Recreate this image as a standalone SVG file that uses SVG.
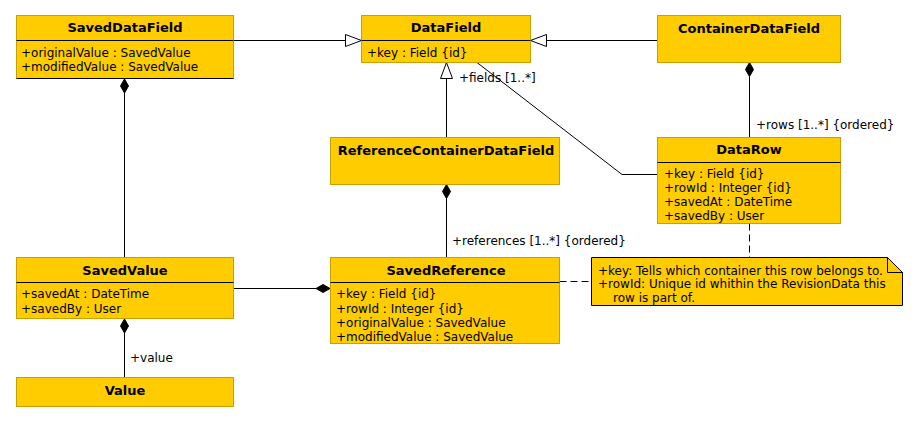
<svg xmlns="http://www.w3.org/2000/svg" width="918" height="423" viewBox="0 0 918 423">
  <style>
    .box { fill: #FFCC00; stroke: #C8A000; stroke-width: 1; }
    .sep { stroke: #000; stroke-width: 1; }
    .title { font-family: "DejaVu Sans", sans-serif; font-size: 13px; font-weight: bold; fill: #000; text-anchor: middle; }
    .attr { font-family: "DejaVu Sans", sans-serif; font-size: 12px; fill: #000; }
    .lbl { font-family: "DejaVu Sans", sans-serif; font-size: 12px; fill: #000; }
    .edge { fill: none; stroke: #000; stroke-width: 1; }
    .dash { fill: none; stroke: #000; stroke-width: 1; stroke-dasharray: 7 4; }
    .note { fill: #FFCC00; stroke: #000; stroke-width: 1; }
  </style>
  <defs>
    <marker id="gen" markerWidth="18" markerHeight="14" refX="17" refY="7" orient="auto" markerUnits="userSpaceOnUse">
      <path d="M1,1 L17,7 L1,13 Z" fill="#fff" stroke="#000" stroke-width="1"/>
    </marker>
    <marker id="comp" markerWidth="16" markerHeight="10" refX="1" refY="5" orient="auto" markerUnits="userSpaceOnUse">
      <path d="M1,5 L8,1 L15,5 L8,9 Z" fill="#000" stroke="#000" stroke-width="1"/>
    </marker>
  </defs>

  <g id="connectors">
    <!-- generalizations -->
    <path class="edge" d="M233.5,40.5 H361.5" marker-end="url(#gen)"/>
    <path class="edge" d="M657.5,40.5 H530.5" marker-end="url(#gen)"/>
    <path class="edge" d="M446.5,137 V62.5" marker-end="url(#gen)"/>
    <!-- associations -->
    <path class="edge" d="M477,62.5 L622,174.5 H658"/>
    <text class="lbl" x="459" y="82">+fields [1..*]</text>
    <!-- compositions -->
    <path class="edge" d="M749.5,62.5 V137" marker-start="url(#comp)"/>
    <text class="lbl" x="756" y="129">+rows [1..*] {ordered}</text>
    <path class="edge" d="M446.5,184.5 V257" marker-start="url(#comp)"/>
    <text class="lbl" x="452" y="245">+references [1..*] {ordered}</text>
    <path class="edge" d="M124.5,78.5 V257"/>
    <path d="M124.5,79 L128.5,86 L124.5,93 L120.5,86 Z" fill="#000" stroke="#000"/>
    <path class="edge" d="M124.5,318.5 V377"/>
    <path d="M124.5,319 L128.5,326 L124.5,333 L120.5,326 Z" fill="#000" stroke="#000"/>
    <text class="lbl" x="130" y="362">+value</text>
    <path class="edge" d="M233.5,288.5 H316"/>
    <path d="M330,288.5 L323,284.5 L316,288.5 L323,292.5 Z" fill="#000" stroke="#000"/>
    <!-- note anchors -->
    <path class="dash" d="M749.5,223.5 V257"/>
    <path class="dash" d="M559.5,281.5 H592"/>
  </g>

  <g id="SavedDataField">
    <rect class="box" x="16.5" y="15.5" width="217" height="63"/>
    <line class="sep" x1="16.5" y1="40.5" x2="233.5" y2="40.5"/>
    <line class="sep" x1="16.5" y1="78.5" x2="233.5" y2="78.5"/>
    <text class="title" x="125" y="32">SavedDataField</text>
    <text class="attr" x="21" y="57">+originalValue : SavedValue</text>
    <text class="attr" x="21" y="71">+modifiedValue : SavedValue</text>
  </g>

  <g id="DataField">
    <rect class="box" x="361.5" y="15.5" width="169" height="47"/>
    <line class="sep" x1="361.5" y1="40.5" x2="530.5" y2="40.5"/>
    <text class="title" x="446" y="32">DataField</text>
    <text class="attr" x="367" y="57">+key : Field {id}</text>
  </g>

  <g id="ContainerDataField">
    <rect class="box" x="657.5" y="15.5" width="183" height="47"/>
    <text class="title" x="749" y="33">ContainerDataField</text>
  </g>

  <g id="ReferenceContainerDataField">
    <rect class="box" x="330.5" y="137.5" width="229" height="47"/>
    <text class="title" x="446" y="155">ReferenceContainerDataField</text>
  </g>

  <g id="DataRow">
    <rect class="box" x="657.5" y="137.5" width="183" height="86"/>
    <line class="sep" x1="657.5" y1="162.5" x2="840.5" y2="162.5"/>
    <text class="title" x="749" y="154">DataRow</text>
    <text class="attr" x="664" y="178">+key : Field {id}</text>
    <text class="attr" x="664" y="192">+rowId : Integer {id}</text>
    <text class="attr" x="664" y="206">+savedAt : DateTime</text>
    <text class="attr" x="664" y="220">+savedBy : User</text>
  </g>

  <g id="SavedValue">
    <rect class="box" x="16.5" y="257.5" width="217" height="61"/>
    <line class="sep" x1="16.5" y1="282.5" x2="233.5" y2="282.5"/>
    <text class="title" x="125" y="275">SavedValue</text>
    <text class="attr" x="21" y="298">+savedAt : DateTime</text>
    <text class="attr" x="21" y="313">+savedBy : User</text>
  </g>

  <g id="Value">
    <rect class="box" x="16.5" y="377.5" width="217" height="29"/>
    <text class="title" x="125" y="395">Value</text>
  </g>

  <g id="SavedReference">
    <rect class="box" x="330.5" y="257.5" width="229" height="86"/>
    <line class="sep" x1="330.5" y1="282.5" x2="559.5" y2="282.5"/>
    <text class="title" x="446" y="275">SavedReference</text>
    <text class="attr" x="336" y="298">+key : Field {id}</text>
    <text class="attr" x="336" y="313">+rowId : Integer {id}</text>
    <text class="attr" x="336" y="327">+originalValue : SavedValue</text>
    <text class="attr" x="336" y="341">+modifiedValue : SavedValue</text>
  </g>

  <g id="note">
    <path class="note" d="M591.5,257.5 H887.5 L902.5,272.5 V305.5 H591.5 Z"/>
    <path class="edge" d="M887.5,257.5 V272.5 H902.5"/>
    <text class="attr" x="598" y="275">+key: Tells which container this row belongs to.</text>
    <text class="attr" x="598" y="288">+rowId: Unique id whithin the RevisionData this</text>
    <text class="attr" x="613" y="302">row is part of.</text>
  </g>
</svg>
